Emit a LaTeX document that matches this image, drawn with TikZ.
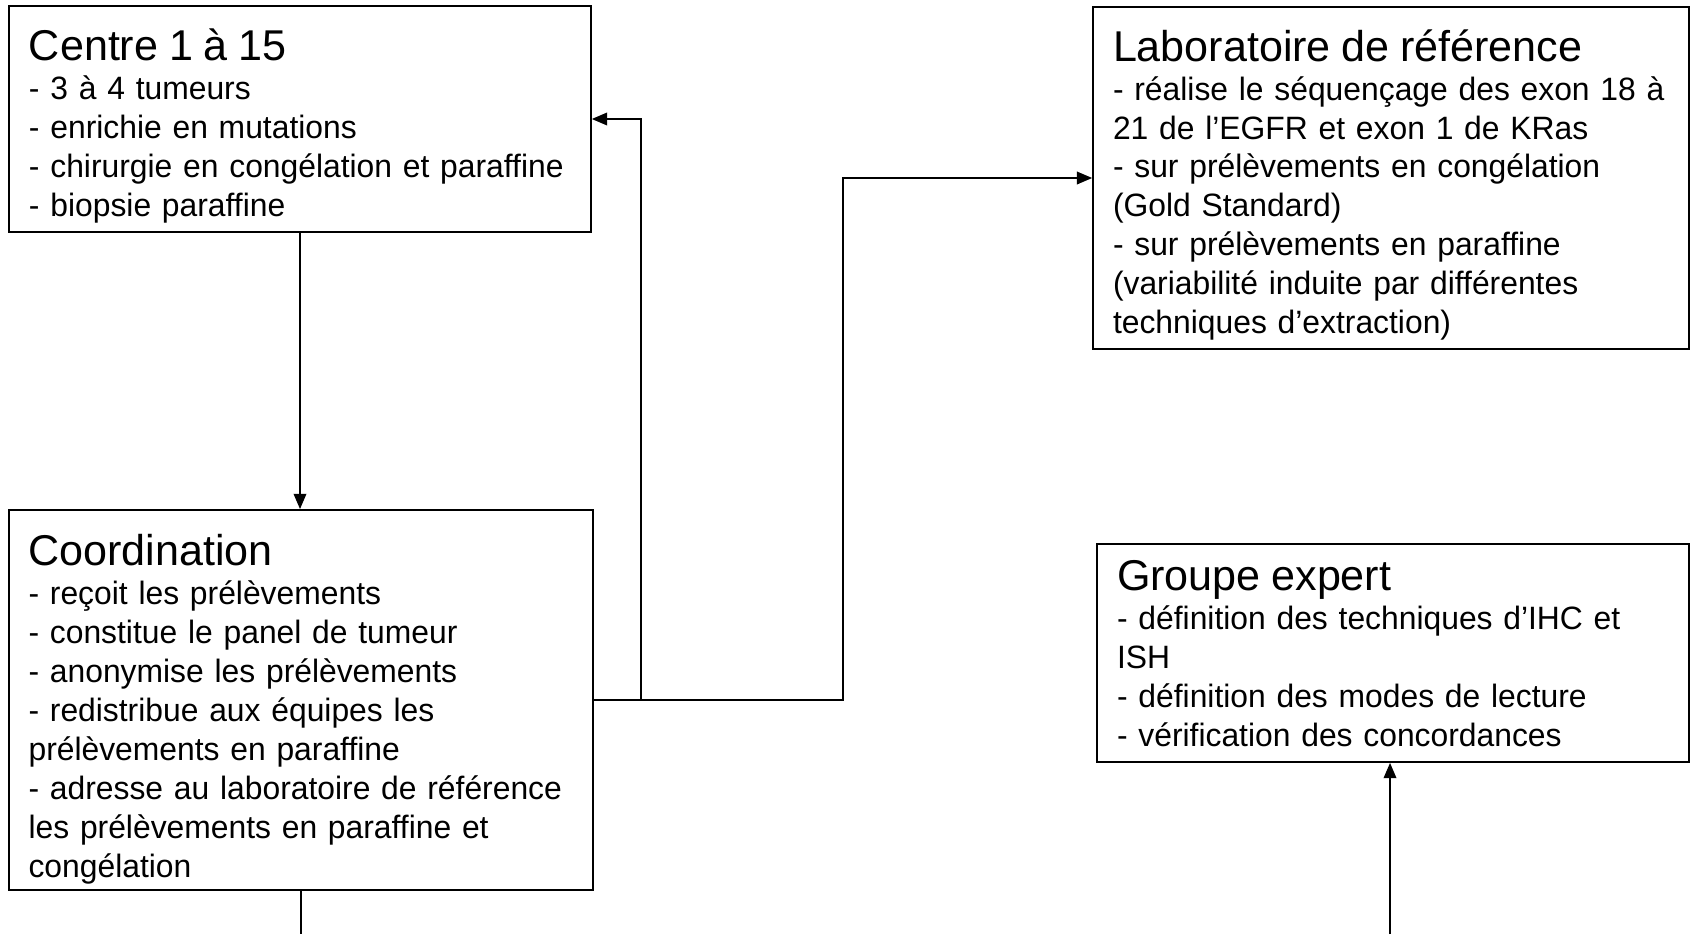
\documentclass[tikz,border=0pt]{standalone}
\usepackage{fontspec}
\setmainfont{Liberation Sans}[FakeStretch=0.985]
\newfontfamily\titrefont{Liberation Sans}
\usetikzlibrary{arrows.meta, positioning}

\newcommand{\titre}[1]{{\titrefont\fontsize{24}{28.8}\selectfont #1}\\}

\begin{document}
\begin{tikzpicture}[x=0.557pt, y=-0.557pt, line width=1pt,
                    >={Triangle[length=8.5pt,width=7pt]},
                    bloc/.style n args={3}{draw, rectangle, align=left,
                      inner xsep=11.1pt, inner ysep=0pt,
                      text width=#1, text height=#2, text depth=#3,
                      font=\fontsize{18}{21.67}\selectfont}]
  \useasboundingbox (0,0) rectangle (1692,934);

  \node[bloc={301.9pt}{30.2pt}{95.4pt}] (centre) at (300,119)
    {\titre{Centre 1 à 15}
     - 3 à 4 tumeurs\\
     - enrichie en mutations\\
     - chirurgie en congélation et paraffine\\
     - biopsie paraffine};
  \node[bloc={303.5pt}{31.1pt}{180.6pt}] (coord) at (301,700)
    {\titre{Coordination}
     - reçoit les prélèvements\\
     - constitue le panel de tumeur\\
     - anonymise les prélèvements\\
     - redistribue aux équipes les\\
     prélèvements en paraffine\\
     - adresse au laboratoire de référence\\
     les prélèvements en paraffine et\\
     congélation};
  \node[bloc={309.7pt}{30.2pt}{160.3pt}] (labo) at (1391,178)
    {\titre{Laboratoire de référence}
     - réalise le séquençage des exon 18 à\\
     21 de l’EGFR et exon 1 de KRas\\
     - sur prélèvements en congélation\\
     (Gold Standard)\\
     - sur prélèvements en paraffine\\
     (variabilité induite par différentes\\
     techniques d’extraction)};
  \node[bloc={307.4pt}{26.0pt}{95.4pt}] (groupe) at (1393,653)
    {\titre{Groupe expert}
     - définition des techniques d’IHC et\\
     ISH\\
     - définition des modes de lecture\\
     - vérification des concordances};

  \coordinate (jonction) at (641,700);
  \coordinate (coude) at (843,700);
  \coordinate (basG) at (301,934);
  \coordinate (basD) at (1390,934);

  \draw[->] (centre.south) -- (centre.south |- coord.north);
  \draw[->] (coord.east) -- (jonction) |- (centre.east);
  \draw[->] (jonction) -- (coude) |- (labo.west);
  \draw (coord.south) -- (basG);
  \draw[->] (basD) -- (basD |- groupe.south);
\end{tikzpicture}
\end{document}
